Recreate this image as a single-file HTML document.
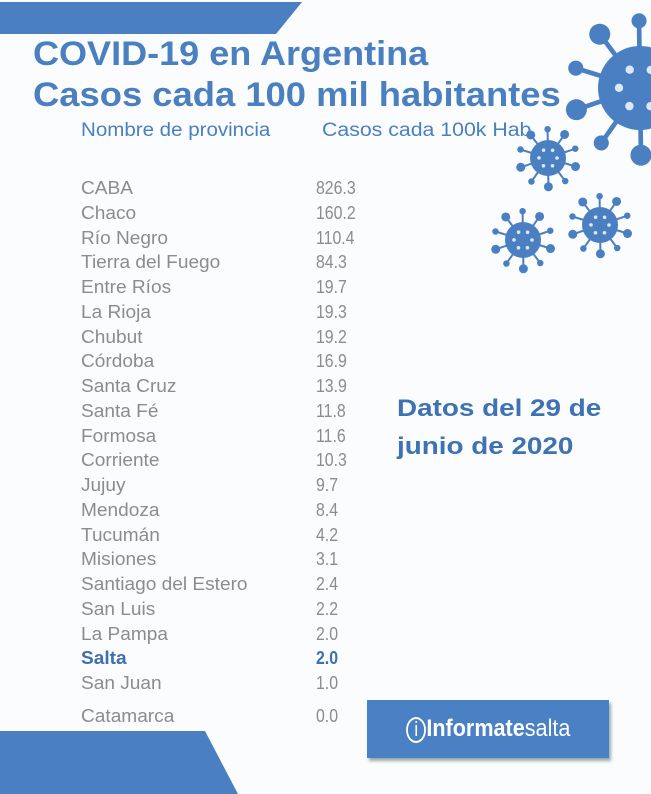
<!DOCTYPE html>
<html><head><meta charset="utf-8"><style>
body{margin:0;width:651px;height:794px;overflow:hidden;background:#fbfcfd;position:relative;font-family:"Liberation Sans",sans-serif}
.abs{position:absolute}
.t{color:#4a7fc0;font-weight:bold;font-size:34px;white-space:nowrap;transform-origin:0 0;left:33px}
.h{color:#4a7fc0;font-size:19px;white-space:nowrap;transform-origin:0 0}
.row{position:absolute;color:#8c8c8c;font-size:18px;white-space:nowrap;transform-origin:0 0;line-height:20px}
.row.hl{color:#3f6fae;font-weight:bold}
</style></head><body>
<svg class="abs" style="left:0;top:0" width="651" height="794">
<polygon points="0,2 302,2 276,34 0,34" fill="#4a80c2"/>
<polygon points="0,731 205,731 238,794 0,794" fill="#4a80c2"/>
<g id="viruses" fill="#4a80c2"></g>
</svg>
<div class="abs t" style="top:35px;transform:scaleX(1.06)">COVID-19 en Argentina</div>
<div class="abs t" style="top:76px;transform:scaleX(1.07)">Casos cada 100 mil habitantes</div>
<div class="abs h" style="left:81px;top:120px;transform:scaleX(1.08)">Nombre de provincia</div>
<div class="abs h" style="left:322px;top:120px;transform:scaleX(1.12)">Casos cada 100k Hab</div>
<div id="rows"></div>
<div class="abs" style="left:397px;top:390px;color:#3f72b2;font-weight:bold;font-size:24px;line-height:38px;white-space:nowrap;transform-origin:0 0;transform:scaleX(1.16)">Datos del 29 de<br>junio de 2020</div>
<div class="abs" style="left:367px;top:700px;width:242px;height:58px;background:#4a80c4;box-shadow:2px 3px 3px #9aa;color:#fff;font-size:24px;line-height:58px;text-align:center"><span style="display:inline-block;transform:scaleX(0.9)"><span style="border:2px solid #fff;border-radius:50%;padding:0 7px;font-size:20px">i</span><b>Informate</b>salta</span></div>
<script>
const provinces=["CABA","Chaco","Río Negro","Tierra del Fuego","Entre Ríos","La Rioja","Chubut","Córdoba","Santa Cruz","Santa Fé","Formosa","Corriente","Jujuy","Mendoza","Tucumán","Misiones","Santiago del Estero","San Luis","La Pampa","Salta","San Juan","Catamarca"];
const cases=[826.3,160.2,110.4,84.3,19.7,19.3,19.2,16.9,13.9,11.8,11.6,10.3,9.7,8.4,4.2,3.1,2.4,2.2,2.0,2.0,1.0,0.0];
const rows=document.getElementById('rows');
provinces.forEach((p,i)=>{
  const y=(i<21?178+i*24.75:706);
  const hl=p==="Salta";
  const a=document.createElement('div');a.className='row'+(hl?' hl':'');a.style.left='81px';a.style.top=y+'px';a.style.transform='scaleX(1.06)';a.textContent=p;
  
  
  const b=document.createElement('div');b.className='row'+(hl?' hl':'');b.style.left='316px';b.style.top=y+'px';b.style.transform='scaleX(0.88)';b.textContent=cases[i].toFixed(1);
  
  
  rows.appendChild(a);rows.appendChild(b);
});
const g=document.getElementById('viruses');const NS='http://www.w3.org/2000/svg';
[[640,88,42],[548,158,18],[523,240,18],[600,225,18]].forEach(([cx,cy,r])=>{
  const grp=document.createElementNS(NS,'g');
  
  
  for(let k=0;k<10;k++){const an=k*Math.PI/5+0.3;const x2=cx+Math.cos(an)*r*1.6,y2=cy+Math.sin(an)*r*1.6;
    const l=document.createElementNS(NS,'line');l.setAttribute('x1',cx);l.setAttribute('y1',cy);l.setAttribute('x2',x2);l.setAttribute('y2',y2);l.setAttribute('stroke','#4a80c2');l.setAttribute('stroke-width',r/9);grp.appendChild(l);
    const c=document.createElementNS(NS,'circle');c.setAttribute('cx',x2);c.setAttribute('cy',y2);c.setAttribute('r',r*(k%2?0.18:0.25));grp.appendChild(c);}
  const c=document.createElementNS(NS,'circle');c.setAttribute('cx',cx);c.setAttribute('cy',cy);c.setAttribute('r',r);grp.appendChild(c);
  for(let k=0;k<6;k++){const d=document.createElementNS(NS,'circle');const an=k*1.05;d.setAttribute('cx',cx+Math.cos(an)*r*0.5);d.setAttribute('cy',cy+Math.sin(an)*r*0.5);d.setAttribute('r',r*0.1);d.setAttribute('fill','#dde8f5');grp.appendChild(d);}
  g.appendChild(grp);
});
</script>
</body></html>
